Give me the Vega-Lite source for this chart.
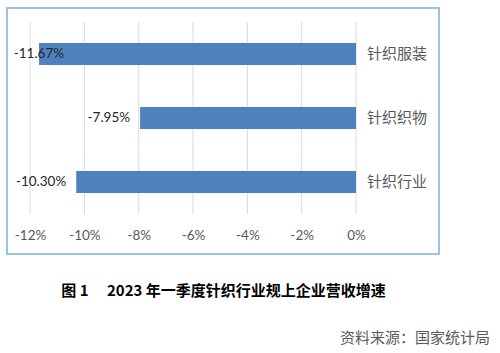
{
  "$schema": "https://vega.github.io/schema/vega-lite/v6.json",
  "autosize": {"type": "none"},
  "padding": {"left": 7, "top": 8, "right": 61, "bottom": 99},
  "width": 432,
  "height": 246,
  "background": "white",
  "config": {
    "view": {"stroke": "#7AAEDB", "strokeWidth": 1.5},
    "font": "Lato"
  },
  "title": {
    "text": "资料来源：国家统计局",
    "orient": "bottom",
    "anchor": "end",
    "frame": "group",
    "dx": 51,
    "offset": 32,
    "font": "Noto Sans CJK SC",
    "fontSize": 15,
    "fontWeight": "normal",
    "color": "#595959"
  },
  "datasets": {
    "bars": [
      {"category": "针织服装", "value": -11.67, "label": "-11.67%"},
      {"category": "针织织物", "value": -7.95, "label": "-7.95%"},
      {"category": "针织行业", "value": -10.30, "label": "-10.30%"}
    ],
    "ticks": [
      {"t": -12, "first": "针织服装", "last": "针织行业"},
      {"t": -10, "first": "针织服装", "last": "针织行业"},
      {"t": -8, "first": "针织服装", "last": "针织行业"},
      {"t": -6, "first": "针织服装", "last": "针织行业"},
      {"t": -4, "first": "针织服装", "last": "针织行业"},
      {"t": -2, "first": "针织服装", "last": "针织行业"},
      {"t": 0, "first": "针织服装", "last": "针织行业"}
    ]
  },
  "layer": [
    {
      "data": {"name": "ticks"},
      "mark": {"type": "rule", "color": "#D9D9D9", "strokeWidth": 1},
      "encoding": {
        "x": {
          "field": "t",
          "type": "quantitative",
          "scale": {"domain": [-12.85, 3.055], "nice": false, "zero": false},
          "axis": {
            "values": [-12, -10, -8, -6, -4, -2, 0],
            "labelExpr": "datum.value + '%'",
            "grid": false,
            "domain": false,
            "ticks": false,
            "offset": -28,
            "labelPadding": 2,
            "labelFont": "Lato",
            "labelFontSize": 13.5,
            "labelColor": "#595959",
            "title": "图 1\u3000 2023 年一季度针织行业规上企业营收增速",
            "titleFont": "Noto Sans CJK SC",
            "titleFontSize": 15,
            "titleFontWeight": "bold",
            "titleColor": "#000000",
            "titlePadding": 42
          }
        },
        "y": {
          "field": "first",
          "type": "nominal",
          "bandPosition": -0.955,
          "scale": {"domain": ["针织服装", "针织织物", "针织行业"], "paddingInner": 0.656, "paddingOuter": 0.75, "align": 0.365},
          "axis": null
        },
        "y2": {"field": "last", "bandPosition": 1.955}
      }
    },
    {
      "data": {"name": "bars"},
      "mark": {"type": "bar", "color": "#4F81BD"},
      "encoding": {
        "x": {"field": "value", "type": "quantitative"},
        "y": {"field": "category", "type": "nominal"}
      }
    },
    {
      "data": {"name": "bars"},
      "transform": [{"calculate": "max(datum.value, -10.38)", "as": "labelPos"}],
      "mark": {"type": "text", "align": "right", "baseline": "middle", "dx": -10, "font": "Lato", "fontSize": 13.5, "color": "#262626"},
      "encoding": {
        "x": {"field": "labelPos", "type": "quantitative"},
        "y": {"field": "category", "type": "nominal"},
        "text": {"field": "label"}
      }
    },
    {
      "data": {"name": "bars"},
      "mark": {"type": "text", "align": "left", "baseline": "middle", "dx": 11, "font": "Noto Sans CJK SC", "fontSize": 15, "color": "#595959"},
      "encoding": {
        "x": {"datum": 0, "type": "quantitative"},
        "y": {"field": "category", "type": "nominal"},
        "text": {"field": "category"}
      }
    }
  ]
}
